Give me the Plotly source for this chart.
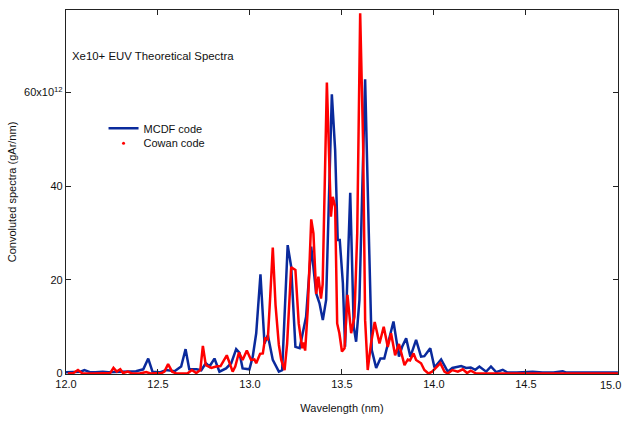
import plotly.graph_objects as go

# MCDF code spectrum (wavelength nm, intensity in units of 1e12)
mcdf_wl = [12.00, 12.05, 12.08, 12.10, 12.13, 12.16, 12.20, 12.23, 12.28, 12.33, 12.38, 12.42,
           12.447, 12.47, 12.51, 12.545, 12.59, 12.626, 12.65, 12.67, 12.71, 12.735, 12.76, 12.78,
           12.807, 12.834, 12.87, 12.898, 12.925, 12.943, 12.96, 12.997, 13.015, 13.034, 13.057,
           13.079, 13.097, 13.124, 13.157, 13.175, 13.197, 13.205, 13.224, 13.247, 13.27, 13.287,
           13.305, 13.333, 13.36, 13.378, 13.396, 13.414, 13.445, 13.463, 13.477, 13.488, 13.505,
           13.517, 13.545, 13.564, 13.577, 13.595, 13.626, 13.646, 13.662, 13.686, 13.709, 13.73,
           13.749, 13.78, 13.81, 13.827, 13.849, 13.872, 13.903, 13.93, 13.948, 13.98, 14.003,
           14.039, 14.075, 14.10, 14.148, 14.175, 14.20, 14.225, 14.247, 14.284, 14.31, 14.338,
           14.374, 14.40, 14.45, 14.50, 14.537, 14.59, 14.65, 14.70, 14.72, 14.80, 15.00]
mcdf_val = [0.3, 0.3, 0.4, 0.75, 0.3, 0.25, 0.4, 0.25, 0.3, 0.4, 0.5, 0.9,
            3.2, 0.4, 0.25, 0.75, 0.5, 1.5, 5.2, 0.9, 0.9, 0.7, 2.2, 1.5,
            3.2, 0.4, 1.1, 2.2, 5.2, 4.4, 1.1, 0.9, 3.6, 8.6, 21.2,
            6.4, 8.2, 2.9, 0.4, 0.7, 20.0, 27.4, 22.8, 5.7, 5.4, 8.6,
            12.1, 27.1, 17.1, 15.0, 11.4, 15.7, 59.6, 47.7, 28.5, 28.5, 19.3,
            5.7, 38.6, 10.0, 6.8, 15.7, 62.8, 29.9, 5.0, 1.2, 3.2, 3.2,
            6.4, 11.1, 3.6, 5.7, 7.5, 3.6, 7.2, 3.6, 3.7, 5.4, 1.3,
            3.0, 0.4, 1.2, 1.6, 1.2, 1.3, 0.8, 1.5, 0.4, 1.5, 0.3,
            0.8, 0.2, 0.2, 0.3, 0.4, 0.2, 0.2, 0.5, 0.2, 0.2, 0.2]

# Cowan code spectrum
cowan_wl = [12.01, 12.04, 12.065, 12.09, 12.15, 12.20, 12.24, 12.258, 12.276, 12.295, 12.31, 12.336,
            12.36, 12.40, 12.436, 12.46, 12.49, 12.52, 12.535, 12.555, 12.577, 12.60, 12.66, 12.684,
            12.708, 12.73, 12.744, 12.76, 12.79, 12.816, 12.84, 12.874, 12.906, 12.92, 12.94, 12.96,
            12.983, 13.006, 13.024, 13.034, 13.055, 13.07, 13.082, 13.097, 13.11, 13.124, 13.139,
            13.157, 13.17, 13.188, 13.202, 13.224, 13.247, 13.265, 13.284, 13.29, 13.30, 13.314,
            13.333, 13.345, 13.36, 13.372, 13.386, 13.395, 13.418, 13.44, 13.45, 13.463, 13.474,
            13.486, 13.50, 13.514, 13.53, 13.55, 13.568, 13.583, 13.599, 13.615, 13.626, 13.64,
            13.658, 13.678, 13.704, 13.727, 13.749, 13.767, 13.789, 13.81, 13.84, 13.858, 13.87,
            13.889, 13.903, 13.93, 13.948, 13.97, 13.99, 14.017, 14.035, 14.057, 14.075, 14.10,
            14.13, 14.157, 14.18, 14.20, 14.23, 15.00]
cowan_val = [0.0, 0.1, 0.75, 0.0, 0.0, 0.0, 0.1, 1.2, 0.4, 0.9, 0.1, 0.4,
             0.0, 0.0, 0.3, 0.0, 0.0, 0.1, 0.4, 2.0, 0.4, 0.0, 0.0, 0.75,
             0.1, 0.75, 5.9, 1.8, 1.2, 1.5, 1.6, 3.9, 0.4, 1.5, 4.5, 2.9,
             4.9, 2.9, 3.0, 2.2, 4.2, 4.3, 7.5, 7.3, 16.4, 26.9, 14.6,
             6.1, 2.9, 0.75, 6.4, 22.7, 22.1, 10.7, 5.4, 6.6, 4.9, 13.6,
             32.9, 29.9, 17.0, 20.7, 16.0, 19.0, 62.1, 33.5, 37.7, 35.6, 10.7,
             8.6, 4.7, 5.4, 16.8, 8.6, 12.1, 29.9, 76.9, 49.1, 11.4, 0.75,
             6.4, 11.0, 6.4, 10.0, 5.7, 8.6, 3.9, 6.3, 1.8, 3.0, 2.8,
             4.3, 2.9, 2.2, 0.75, 0.0, 0.4, 1.5, 2.2, 0.4, 0.0, 0.75,
             0.4, 0.9, 0.1, 0.6, 0.0, 0.0]

x_ticks = [12.0, 12.5, 13.0, 13.5, 14.0, 14.5, 15.0]
x_ticktext = ["12.0", "12.5", "13.0", "13.5", "14.0", "14.5", ""]
x_last_label = "15.0"  # drawn as annotation so it stays inside the page edge
y_ticks = [0, 20, 40, 60]
y_ticktext = ["0", "20", "40", "60x10<sup>12</sup>"]

BLUE = "#0a2a9c"
RED = "#ff0000"
FONT = "Liberation Sans, Arial, sans-serif"

fig = go.Figure()
fig.add_trace(go.Scatter(x=mcdf_wl, y=mcdf_val, mode="lines", name="MCDF code",
                         line=dict(color=BLUE, width=2.5), legend="legend"))
fig.add_trace(go.Scatter(x=cowan_wl, y=cowan_val, mode="lines", name="Cowan code",
                         line=dict(color=RED, width=2.5), showlegend=False))
fig.add_trace(go.Scatter(x=[None], y=[None], mode="markers", name="Cowan code",
                         marker=dict(color=RED, size=3), legend="legend2"))

legend_common = dict(xanchor="left", yanchor="top", bgcolor="rgba(0,0,0,0)",
                     font=dict(size=11), itemwidth=30)

fig.update_layout(
    width=623, height=421,
    margin=dict(l=66, r=5, t=10, b=47, autoexpand=False),
    paper_bgcolor="white", plot_bgcolor="white",
    font=dict(family=FONT, size=11, color="#111"),
    showlegend=True,
    legend=dict(x=0.068, y=0.715, **legend_common),
    legend2=dict(x=0.068, y=0.674, **legend_common),
    xaxis=dict(range=[12.0, 15.0005], tickvals=x_ticks, ticktext=x_ticktext,
               ticks="inside", ticklen=5, tickcolor="#222", showline=True,
               linecolor="#222", linewidth=1.3, mirror="ticks", showgrid=False, zeroline=False,
               automargin=False,
               title=dict(text="Wavelength (nm)", standoff=14, font=dict(size=11))),
    yaxis=dict(range=[-0.1, 77.6], tickvals=y_ticks, ticktext=y_ticktext,
               ticks="inside", ticklen=5, tickcolor="#222", showline=True,
               linecolor="#222", linewidth=1.3, mirror="ticks", showgrid=False, zeroline=False,
               automargin=False,
               title=dict(text="Convoluted spectra (gAr/nm)", standoff=5, font=dict(size=11))),
    annotations=[
        dict(text="Xe10+ EUV Theoretical Spectra", x=0.008, y=0.873,
             xref="paper", yref="paper", xanchor="left", yanchor="middle",
             showarrow=False, font=dict(size=11.4)),
        dict(text=x_last_label, x=1.009, y=-0.029, xref="paper", yref="paper",
             xanchor="right", yanchor="middle", showarrow=False,
             font=dict(size=11)),
    ],
)

fig.write_html("out.html")
